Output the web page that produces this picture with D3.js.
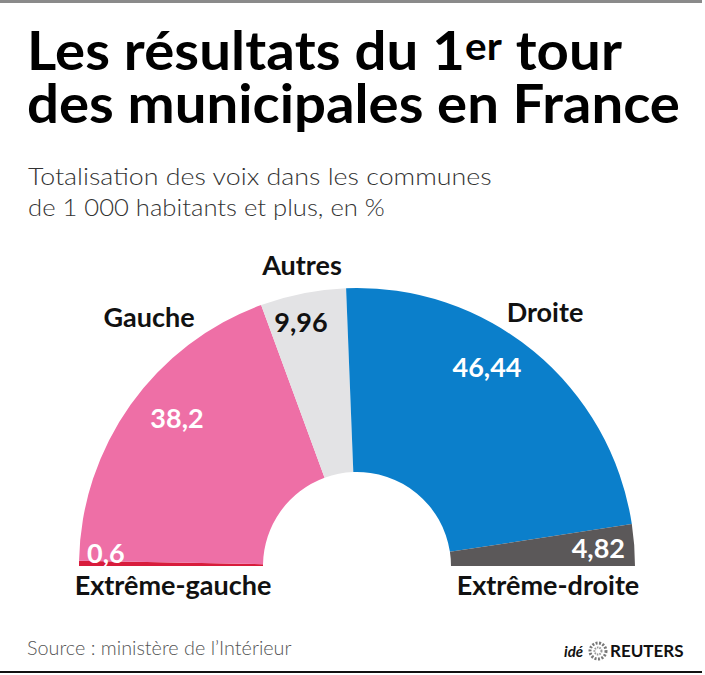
<!DOCTYPE html>
<html>
<head>
<meta charset="utf-8">
<script src="https://cdn.jsdelivr.net/npm/d3@7"></script>
<style>
  body { margin: 0; background: #fff; }
  svg { display: block; }
</style>
</head>
<body>
<script>
const svgWidth = 705;
const svgHeight = 675;

// data
const parties = ['Extrême-gauche', 'Gauche', 'Autres', 'Droite', 'Extrême-droite'];
const scores = [0.6, 38.2, 9.96, 46.44, 4.82];
const scoreLabels = ['0,6', '38,2', '9,96', '46,44', '4,82'];
const colors = ['#d81c3c', '#ee6fa6', '#e3e3e5', '#0b7fcb', '#5b5859'];

// label layout (x, y baseline, anchor)
const namePos = [[173, 595, 'middle'], [149, 327, 'middle'], [302, 275, 'middle'], [545, 322, 'middle'], [548, 595, 'middle']];
const valuePos = [[87, 563, 'start'], [177, 428, 'middle'], [301, 332, 'middle'], [487, 377, 'middle'], [625, 558, 'end']];
const valueFill = ['#fff', '#fff', '#111', '#fff', '#fff'];

const font = 'Lato, "Open Sans", sans-serif';

const svg = d3.select('body')
              .append('svg')
              .attr('width', svgWidth)
              .attr('height', svgHeight);

svg.append('rect')
   .attr('width', svgWidth)
   .attr('height', svgHeight)
   .attr('fill', '#fff');

// frame lines
svg.append('line')
   .attr('x1', 0).attr('x2', 702)
   .attr('y1', 1.5).attr('y2', 1.5)
   .attr('stroke', '#8a8a8a')
   .attr('stroke-width', 3);
svg.append('line')
   .attr('x1', 0).attr('x2', 702)
   .attr('y1', 672).attr('y2', 672)
   .attr('stroke', '#111')
   .attr('stroke-width', 2);

// squeeze a group horizontally so its content is w pixels wide
function fitGroup(g, x, y, w) {
  const bw = g.node().getBBox().width;
  g.attr('transform', `translate(${x},${y}) scale(${w / bw},1)`);
}

// title: one text, two lines, "er" raised
const titleG = svg.append('g')
                  .attr('font-family', font)
                  .attr('font-weight', 700)
                  .attr('fill', '#000');
const title = titleG.append('text').attr('font-size', 53);
const a = title.append('tspan').attr('x', 0).attr('y', 0).text('Les résultats du 1');
const b = title.append('tspan').attr('font-size', 38).attr('dy', -10).text('er');
const c = title.append('tspan').attr('dy', 10).text('\u00a0tour');
const d2 = title.append('tspan').attr('x', 0).attr('y', 53).text('des municipales en France');

const w1 = a.node().getComputedTextLength() + b.node().getComputedTextLength() + c.node().getComputedTextLength();
const w2 = d2.node().getComputedTextLength();
const sx = 653 / w2;
// line 1 is a bit tighter than line 2 in the picture
const extra = (595 / sx - w1) / 24;
[a, b, c].forEach(t => t.attr('letter-spacing', extra));
titleG.attr('transform', `translate(27,70) scale(${sx},1)`);

// subtitle
const subLines = ['Totalisation des voix dans les communes', 'de 1 000 habitants et plus, en %'];
const subWidths = [464, 357];
subLines.forEach((s, i) => {
  const g = svg.append('g')
               .attr('font-family', font)
               .attr('font-weight', 300)
               .attr('font-size', 24)
               .attr('fill', '#333');
  g.append('text').text(s);
  fitGroup(g, 28, 185 + i * 31, subWidths[i]);
});

// half donut
const cx = 357, cy = 566;
const outerR = 278, innerR = 94;

const pie = d3.pie()
              .sort(null)
              .startAngle(-Math.PI / 2)
              .endAngle(Math.PI / 2);

const arc = d3.arc()
              .innerRadius(innerR)
              .outerRadius(outerR);

const arcs = pie(scores);

svg.append('g')
   .attr('transform', `translate(${cx},${cy})`)
   .selectAll('path')
   .data(arcs)
   .enter()
   .append('path')
   .attr('d', arc)
   .attr('fill', (d, i) => colors[i]);

// names
svg.append('g')
   .attr('font-family', font)
   .attr('font-weight', 700)
   .attr('font-size', 27)
   .attr('fill', '#111')
   .selectAll('text')
   .data(parties)
   .enter()
   .append('text')
   .attr('x', (d, i) => namePos[i][0])
   .attr('y', (d, i) => namePos[i][1])
   .attr('text-anchor', (d, i) => namePos[i][2])
   .text(d => d);

// values
svg.append('g')
   .attr('font-family', font)
   .attr('font-weight', 700)
   .attr('font-size', 27)
   .selectAll('text')
   .data(scoreLabels)
   .enter()
   .append('text')
   .attr('x', (d, i) => valuePos[i][0])
   .attr('y', (d, i) => valuePos[i][1])
   .attr('text-anchor', (d, i) => valuePos[i][2])
   .attr('fill', (d, i) => valueFill[i])
   .text(d => d);

// source
const src = svg.append('g')
               .attr('font-family', font)
               .attr('font-weight', 300)
               .attr('font-size', 19)
               .attr('fill', '#555');
src.append('text').text('Source : ministère de l\u2019Intérieur');
fitGroup(src, 27, 655, 265);

// logo
const logo = svg.append('g')
                .attr('font-family', font)
                .attr('font-weight', 700)
                .attr('fill', '#111');
logo.append('text')
    .attr('x', 564).attr('y', 657)
    .attr('font-size', 15)
    .attr('font-style', 'italic')
    .text('idé');
logo.append('circle')
    .attr('cx', 598).attr('cy', 651).attr('r', 8)
    .attr('fill', 'none')
    .attr('stroke', '#777')
    .attr('stroke-width', 3)
    .attr('stroke-dasharray', '2 1.5');
logo.append('circle')
    .attr('cx', 598).attr('cy', 651).attr('r', 3.5)
    .attr('fill', 'none')
    .attr('stroke', '#999')
    .attr('stroke-width', 2)
    .attr('stroke-dasharray', '1.5 1');
logo.append('text')
    .attr('x', 610).attr('y', 657)
    .attr('font-size', 17)
    .text('REUTERS');
</script>
</body>
</html>
